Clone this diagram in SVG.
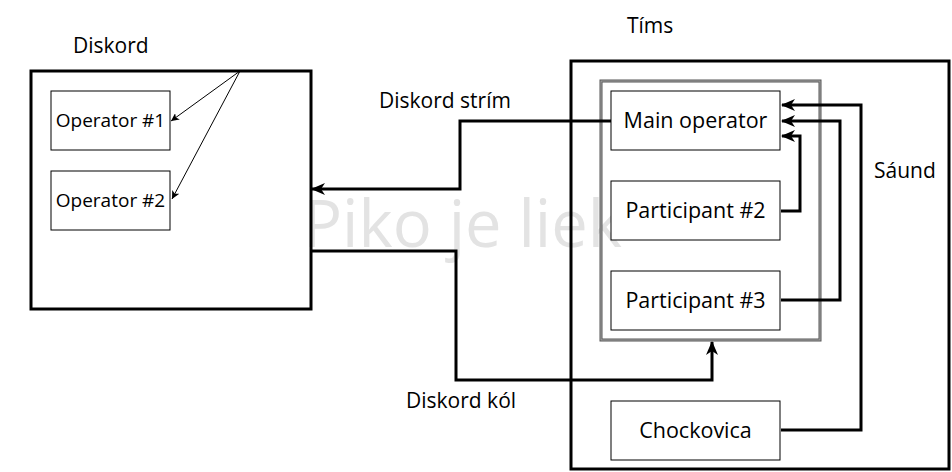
<svg xmlns="http://www.w3.org/2000/svg" width="952" height="472" viewBox="0 0 952 472">
<style>
text{font-family:"Open Sans","DejaVu Sans",sans-serif;fill:#000}
.lbl{font-size:21px}
.op{font-size:19px}
.nl{font-size:21.5px}
.node{fill:#fff;stroke:#000;stroke-width:1}
.big{fill:none;stroke:#000;stroke-width:3}
.thick{fill:none;stroke:#000;stroke-width:3}
.thin{fill:none;stroke:#000;stroke-width:1}
.wm{font-size:65px;fill:#e3e3e3}
</style>
<defs>
<marker id="ah" markerUnits="userSpaceOnUse" markerWidth="14" markerHeight="12" refX="13" refY="6" orient="auto">
<path d="M0,0 L14,6 L0,12 L4,6 Z" fill="#000"/>
</marker>
<marker id="as" markerUnits="userSpaceOnUse" markerWidth="8" markerHeight="8" refX="8" refY="4" orient="auto">
<path d="M0,0 L8,4 L0,8 L2,4 Z" fill="#000"/>
</marker>
</defs>
<rect width="952" height="472" fill="#fff"/>
<text class="wm" x="303" y="247">Piko je liek</text>
<g id="diskord">
<rect class="big" x="31" y="71" width="280" height="238"/>
<text class="lbl" x="73" y="53">Diskord</text>
</g>
<g id="operator1">
<rect class="node" x="51" y="91" width="119" height="59"/>
<text class="op" x="110.5" y="127" text-anchor="middle">Operator #1</text>
</g>
<g id="operator2">
<rect class="node" x="51" y="171" width="119" height="59"/>
<text class="op" x="110.5" y="207" text-anchor="middle">Operator #2</text>
</g>
<g id="tims">
<rect class="big" x="571" y="61" width="378" height="408"/>
<text class="lbl" x="627" y="33">Tíms</text>
<text class="lbl" x="874" y="178">Sáund</text>
</g>
<g id="group">
<rect x="601" y="81" width="219" height="259" fill="none" stroke="#555" stroke-width="3"/>
<rect x="601" y="81" width="219" height="259" fill="none" stroke="#aaa" stroke-width="1"/>
</g>
<g id="main">
<rect class="node" x="611" y="91" width="169" height="59"/>
<text class="nl" x="695.5" y="128" text-anchor="middle">Main operator</text>
</g>
<g id="p2">
<rect class="node" x="611" y="181" width="169" height="59"/>
<text class="nl" x="695.5" y="218" text-anchor="middle">Participant #2</text>
</g>
<g id="p3">
<rect class="node" x="611" y="271" width="169" height="59"/>
<text class="nl" x="695.5" y="308" text-anchor="middle">Participant #3</text>
</g>
<g id="chockovica">
<rect class="node" x="611" y="401" width="169" height="59"/>
<text class="nl" x="695.5" y="438" text-anchor="middle">Chockovica</text>
</g>
<g id="connectors">
<path class="thin" d="M240,71 L171,121" marker-end="url(#as)"/>
<path class="thin" d="M240,71 L172,199" marker-end="url(#as)"/>
<path class="thick" d="M611,121 H460 V189 H312" marker-end="url(#ah)"/>
<path class="thick" d="M311,251 H456 V380 H712 V342" marker-end="url(#ah)"/>
<path class="thick" d="M781,211 H800 V136 H782" marker-end="url(#ah)"/>
<path class="thick" d="M781,300 H840 V121 H782" marker-end="url(#ah)"/>
<path class="thick" d="M781,430 H861 V105 H782" marker-end="url(#ah)"/>
<text class="lbl" x="379" y="108">Diskord strím</text>
<text class="lbl" x="406" y="408">Diskord kól</text>
</g>
</svg>
